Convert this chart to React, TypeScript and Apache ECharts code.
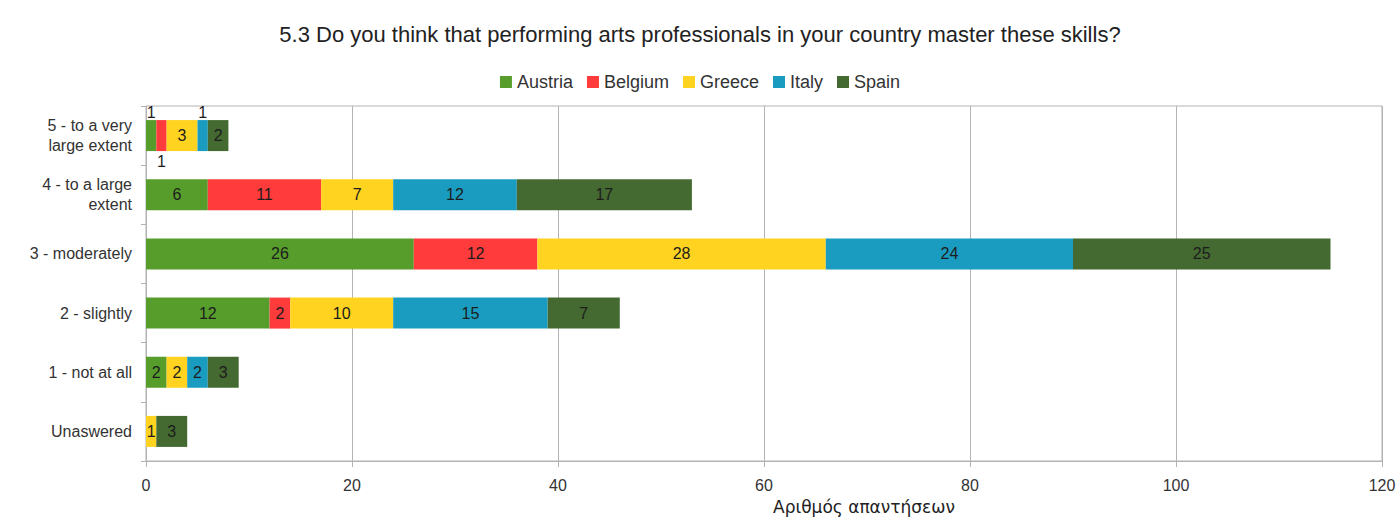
import React, { useEffect, useRef } from "react";
import * as echarts from "echarts";

const categories = [
  "5 - to a very\nlarge extent",
  "4 - to a large\nextent",
  "3 - moderately",
  "2 - slightly",
  "1 - not at all",
  "Unaswered",
];
const seriesNames = ["Austria", "Belgium", "Greece", "Italy", "Spain"];
const austria = [1, 6, 26, 12, 2, 0];
const belgium = [1, 11, 12, 2, 0, 0];
const greece = [3, 7, 28, 10, 2, 1];
const italy = [1, 12, 24, 15, 2, 0];
const spain = [2, 17, 25, 7, 3, 3];
const colors = ["#579d2c", "#ff3b3b", "#ffd320", "#1a9cc0", "#446a31"];
const xTicks = { min: 0, max: 120, interval: 20 };
const title = "5.3 Do you think that performing arts professionals in your country master these skills?";
const xName = "Αριθμός απαντήσεων";

// label placement overrides for thin bars in the first row: [seriesIndex, categoryIndex, position]
const labelOverrides: [number, number, string][] = [
  [0, 0, "top"],
  [1, 0, "bottom"],
  [3, 0, "top"],
];

export default function App() {
  const ref = useRef<HTMLDivElement>(null);
  useEffect(() => {
    if (!ref.current) return;
    const chart = echarts.init(ref.current, null, { renderer: "svg" });
    const all = [austria, belgium, greece, italy, spain];
    const font = "'Liberation Sans', Arial, sans-serif";
    const series = all.map((vals, si) => ({
      name: seriesNames[si],
      type: "bar",
      stack: "total",
      barWidth: 31,
      itemStyle: { color: colors[si] },
      label: {
        show: true,
        position: "inside",
        color: "#1c1c1c",
        fontSize: 16,
        fontFamily: font,
        formatter: (p: any) => (p.value ? String(p.value) : ""),
      },
      data: vals.map((v, ci) => {
        const o = labelOverrides.find((x) => x[0] === si && x[1] === ci);
        if (o) {
          return { value: v, label: { position: o[2], distance: o[2] === "top" ? 0 : 2 } };
        }
        return v;
      }),
    }));
    chart.setOption({
      animation: false,
      backgroundColor: "#ffffff",
      title: {
        text: title,
        left: "center",
        top: 18,
        textStyle: { fontSize: 22, fontWeight: "normal", color: "#222", fontFamily: font },
      },
      legend: {
        data: seriesNames,
        top: 68,
        left: "center",
        icon: "rect",
        itemWidth: 12,
        itemHeight: 12,
        itemGap: 14,
        textStyle: { fontSize: 18, color: "#333", fontFamily: font },
      },
      grid: {
        left: 146,
        right: 18,
        top: 106,
        bottom: 59,
        show: true,
        borderColor: "#b3b3b3",
        borderWidth: 1,
      },
      xAxis: {
        type: "value",
        min: xTicks.min,
        max: xTicks.max,
        interval: xTicks.interval,
        axisLine: { show: true, lineStyle: { color: "#b3b3b3" } },
        axisTick: { show: true, length: 6, lineStyle: { color: "#b3b3b3" } },
        splitLine: { show: true, lineStyle: { color: "#b3b3b3" } },
        axisLabel: { fontSize: 16, color: "#333", fontFamily: font, margin: 16 },
      },
      yAxis: {
        type: "category",
        data: categories,
        inverse: true,
        axisLine: { show: true, lineStyle: { color: "#b3b3b3" } },
        axisTick: { show: true, length: 5, lineStyle: { color: "#b3b3b3" } },
        axisLabel: {
          fontSize: 16,
          color: "#333",
          fontFamily: font,
          margin: 14,
          align: "right",
          lineHeight: 20,
        },
      },
      graphic: [
        {
          type: "text",
          left: 773,
          top: 498,
          style: { text: xName, fontSize: 17, fill: "#222", fontFamily: "'DejaVu Sans', sans-serif" },
        },
      ],
      series,
    });
    return () => chart.dispose();
  }, []);
  return (
    <div
      ref={ref}
      style={{ position: "fixed", left: 0, top: 0, width: 1400, height: 520, background: "#fff" }}
    />
  );
}
